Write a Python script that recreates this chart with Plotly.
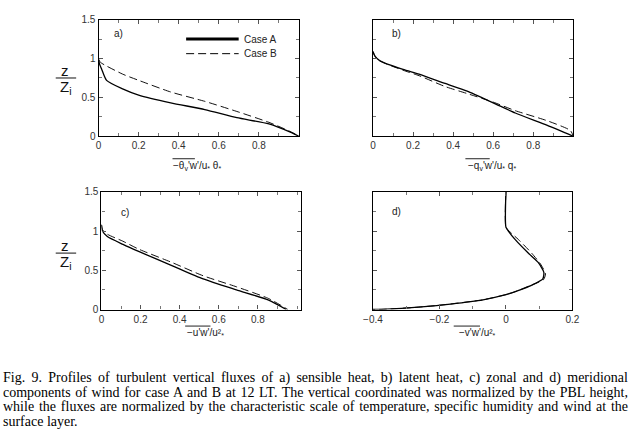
import plotly.graph_objects as go

# ---------------- data ----------------
# panel a: sensible heat flux
a_A_x = [0.0, 0.005, 0.016, 0.04, 0.12, 0.20, 0.36, 0.53, 0.69, 0.85, 0.96, 1.0]
a_A_y = [0.99, 0.93, 0.86, 0.72, 0.61, 0.53, 0.43, 0.345, 0.24, 0.16, 0.05, 0.0]
a_B_x = [0.0, 0.01, 0.12, 0.20, 0.36, 0.53, 0.69, 0.85, 0.95, 1.0]
a_B_y = [0.99, 0.95, 0.80, 0.72, 0.57, 0.45, 0.32, 0.18, 0.07, 0.0]
# panel b: latent heat flux
b_A_x = [0.0, 0.01, 0.035, 0.15, 0.23, 0.36, 0.47, 0.60, 0.71, 0.87, 1.0]
b_A_y = [1.09, 1.03, 0.97, 0.86, 0.80, 0.68, 0.58, 0.43, 0.30, 0.14, 0.0]
b_B_x = [0.0, 0.01, 0.035, 0.15, 0.23, 0.36, 0.47, 0.60, 0.71, 0.87, 0.985, 1.0]
b_B_y = [1.09, 1.03, 0.97, 0.85, 0.78, 0.64, 0.55, 0.44, 0.33, 0.20, 0.075, 0.0]
# panel c: zonal momentum flux
c_A_x = [0.0, 0.005, 0.03, 0.11, 0.19, 0.36, 0.52, 0.69, 0.855, 0.945]
c_A_y = [1.08, 1.0, 0.93, 0.83, 0.74, 0.56, 0.39, 0.25, 0.12, 0.0]
c_B_x = [0.0, 0.005, 0.03, 0.11, 0.19, 0.36, 0.52, 0.69, 0.855, 0.953]
c_B_y = [1.08, 1.02, 0.96, 0.87, 0.77, 0.60, 0.43, 0.29, 0.14, 0.0]
# panel d: meridional momentum flux
d_A_x = [0.0, 0.0, 0.009, 0.028, 0.067, 0.097, 0.114, 0.111, 0.087, 0.028, 0.0, -0.069, -0.167, -0.264, -0.36, -0.4]
d_A_y = [1.5, 1.05, 0.99, 0.89, 0.72, 0.60, 0.475, 0.39, 0.33, 0.227, 0.19, 0.124, 0.07, 0.03, 0.004, 0.0]
d_B_x = [0.0, 0.0, 0.012, 0.038, 0.077, 0.104, 0.119, 0.113, 0.088, 0.028, 0.0, -0.069, -0.167, -0.264, -0.36, -0.4]
d_B_y = [1.5, 1.05, 0.99, 0.89, 0.72, 0.58, 0.455, 0.38, 0.33, 0.227, 0.19, 0.124, 0.07, 0.03, 0.004, 0.0]

x_ticks_01 = [0, 0.2, 0.4, 0.6, 0.8]
x_ticklabels_01 = ["0", "0.2", "0.4", "0.6", "0.8"]
x_ticks_d = [-0.4, -0.2, 0, 0.2]
x_ticklabels_d = ["\u22120.4", "\u22120.2", "0", "0.2"]
y_ticks = [0, 0.5, 1, 1.5]
y_ticklabels = ["0", "0.5", "1", "1.5"]

caption_lines = [
    "Fig. 9. Profiles of turbulent vertical fluxes of a) sensible heat, b) latent heat, c) zonal and d) meridional",
    "components of wind for case A and B at 12 LT. The vertical coordinated was normalized by the PBL height,",
    "while the fluxes are normalized by the characteristic scale of temperature, specific humidity and wind at the",
    "surface layer.",
]

W, H = 631, 442
def px(x): return x / W
def py(y): return 1 - y / H

fig = go.Figure()

panels = [
    ("x", "y", a_A_x, a_A_y, a_B_x, a_B_y),
    ("x2", "y2", b_A_x, b_A_y, b_B_x, b_B_y),
    ("x3", "y3", c_A_x, c_A_y, c_B_x, c_B_y),
    ("x4", "y4", d_A_x, d_A_y, d_B_x, d_B_y),
]
for xa, ya, Ax, Ay, Bx, By in panels:
    fig.add_trace(go.Scatter(x=Bx, y=By, xaxis=xa, yaxis=ya, mode="lines",
                             line=dict(color="#111", width=1, dash="8px,4px", shape="spline", smoothing=0.6),
                             showlegend=False, name="Case B", hoverinfo="skip"))
    fig.add_trace(go.Scatter(x=Ax, y=Ay, xaxis=xa, yaxis=ya, mode="lines",
                             line=dict(color="#000", width=1.3, shape="spline", smoothing=0.6),
                             showlegend=False, name="Case A", hoverinfo="skip"))

tickfont = dict(family="Liberation Sans, Arial, sans-serif", size=10, color="#333")
common_x = dict(showline=True, mirror="ticks", linecolor="#000", linewidth=1.2,
                ticks="inside", ticklen=4, tickcolor="#555", showgrid=False, zeroline=False,
                tickfont=tickfont, fixedrange=True)
common_y = dict(showline=True, mirror="ticks", linecolor="#000", linewidth=1.2,
                ticks="inside", ticklen=4, tickcolor="#555", showgrid=False, zeroline=False,
                tickfont=tickfont, range=[0, 1.5], tickvals=y_ticks,
                minor=dict(dtick=0.25, ticks="inside", ticklen=3, tickcolor="#777"),
                fixedrange=True)
minor_x = dict(dtick=0.1, ticks="inside", ticklen=3, tickcolor="#777")

dom = {
    "a": ([px(91), px(297)], [py(134), py(14)]),
    "b": ([px(373), px(579)], [py(134), py(14)]),
    "c": ([px(94), px(299)], [py(312), py(191)]),
    "d": ([px(373), px(578)], [py(312), py(191)]),
}

fig.update_layout(
    width=W, height=H, margin=dict(l=0, r=0, t=0, b=0),
    paper_bgcolor="white", plot_bgcolor="white",
    xaxis=dict(common_x, domain=dom["a"][0], anchor="y", range=[0, 1.0],
               tickvals=x_ticks_01, ticktext=x_ticklabels_01, minor=minor_x),
    yaxis=dict(common_y, domain=dom["a"][1], anchor="x", ticktext=y_ticklabels),
    xaxis2=dict(common_x, domain=dom["b"][0], anchor="y2", range=[0, 1.0],
                tickvals=x_ticks_01, ticktext=x_ticklabels_01, minor=minor_x),
    yaxis2=dict(common_y, domain=dom["b"][1], anchor="x2", showticklabels=False),
    xaxis3=dict(common_x, domain=dom["c"][0], anchor="y3", range=[0, 1.02],
                tickvals=x_ticks_01, ticktext=x_ticklabels_01, minor=minor_x),
    yaxis3=dict(common_y, domain=dom["c"][1], anchor="x3", ticktext=y_ticklabels),
    xaxis4=dict(common_x, domain=dom["d"][0], anchor="y4", range=[-0.4, 0.2],
                tickvals=x_ticks_d, ticktext=x_ticklabels_d, minor=minor_x),
    yaxis4=dict(common_y, domain=dom["d"][1], anchor="x4", showticklabels=False),
)

ann = []
shapes = []
lab_font = dict(family="Liberation Sans, Arial, sans-serif", size=10, color="#222")

def A(text, x, y, font, xanchor="center", yanchor="middle", align="center"):
    ann.append(dict(text=text, x=px(x), y=py(y), xref="paper", yref="paper",
                    xanchor=xanchor, yanchor=yanchor, align=align, showarrow=False, font=font,
                    borderpad=0))

# panel letters
for txt, x, y in [("a)", 111, 28), ("b)", 397, 28), ("c)", 118, 212), ("d)", 397, 211)]:
    A(txt, x, y, dict(family="Liberation Sans, Arial", size=10, color="#222"))

# y-axis fraction labels z / Z_i
for ymid in [74, 254]:
    A("z", 57, ymid - 8, dict(family="Liberation Sans, Arial", size=15, color="#111"))
    A("Z<sub>i</sub>", 58, ymid + 10, dict(family="Liberation Sans, Arial", size=15, color="#111"))
    shapes.append(dict(type="line", xref="paper", yref="paper", x0=px(47), x1=px(68),
                       y0=py(ymid), y1=py(ymid), line=dict(color="#111", width=1)))

# x-axis labels with overlines
xlabels = [
    ("\u2212\u03b8<sub>v</sub>'w'/u<sub>*</sub> \u03b8<sub>*</sub>", 192, 164, 167, 190),
    ("\u2212q<sub>v</sub>'w'/u<sub>*</sub> q<sub>*</sub>", 495, 164, 468, 493),
    ("\u2212u'w'/u\u00b2<sub>*</sub>", 201, 336, 180, 206),
    ("\u2212v'w'/u\u00b2<sub>*</sub>", 480, 336, 456, 483),
]
for txt, x, y, ox0, ox1 in xlabels:
    A(txt, x, y, lab_font)
    shapes.append(dict(type="line", xref="paper", yref="paper", x0=px(ox0), x1=px(ox1),
                       y0=py(y - 7), y1=py(y - 7), line=dict(color="#222", width=1)))

# legend keys in panel a
shapes.append(dict(type="line", xref="paper", yref="paper", x0=px(181), x1=px(235),
                   y0=py(34), y1=py(34), line=dict(color="#000", width=3)))
shapes.append(dict(type="line", xref="paper", yref="paper", x0=px(181), x1=px(235),
                   y0=py(49), y1=py(49), line=dict(color="#000", width=1, dash="8px,4px")))
A("Case A", 239, 34, lab_font, xanchor="left", align="left")
A("Case B", 239, 49, lab_font, xanchor="left", align="left")

# caption
for i, line in enumerate(caption_lines):
    A(line, 3, 382 + 15 * i,
      dict(family="Liberation Serif, Times New Roman, serif", size=14, color="#000"),
      xanchor="left", align="left")

fig.update_layout(annotations=ann, shapes=shapes)

# justify the caption (all lines but the last) between x=3 and x=628, like the printed figure
justify_js = """
function justifyCaption(){
  var L = 3, R = 628;
  var gd = document.querySelector('.js-plotly-plot');
  var g0 = gd ? gd.getBoundingClientRect().left : 0;
  document.querySelectorAll('.annotation-text').forEach(function(t){
    var s = t.textContent || '';
    var full = (s.indexOf('Fig. 9.') === 0 || s.indexOf('components of wind') === 0 || s.indexOf('while the fluxes') === 0);
    var last = (s.indexOf('surface layer') === 0);
    if (!full && !last) return;
    t.removeAttribute('transform');
    t.style.wordSpacing = '0px';
    if (full) {
      var n = (s.match(/ /g) || []).length;
      var w = t.getBoundingClientRect().width;
      if (n > 0) { t.style.wordSpacing = ((R - L - w) / n).toFixed(3) + 'px'; }
    }
    var r = t.getBoundingClientRect();
    var dx = (L + g0) - r.left;
    t.setAttribute('transform', 'translate(' + dx.toFixed(2) + ',0)');
  });
}
document.body.style.margin = '0px';
document.body.style.padding = '0px';
justifyCaption();
if (document.fonts && document.fonts.ready) { document.fonts.ready.then(justifyCaption); }
setTimeout(justifyCaption, 50);
"""
fig.write_html("out.html", config={"displayModeBar": False}, post_script=justify_js)
